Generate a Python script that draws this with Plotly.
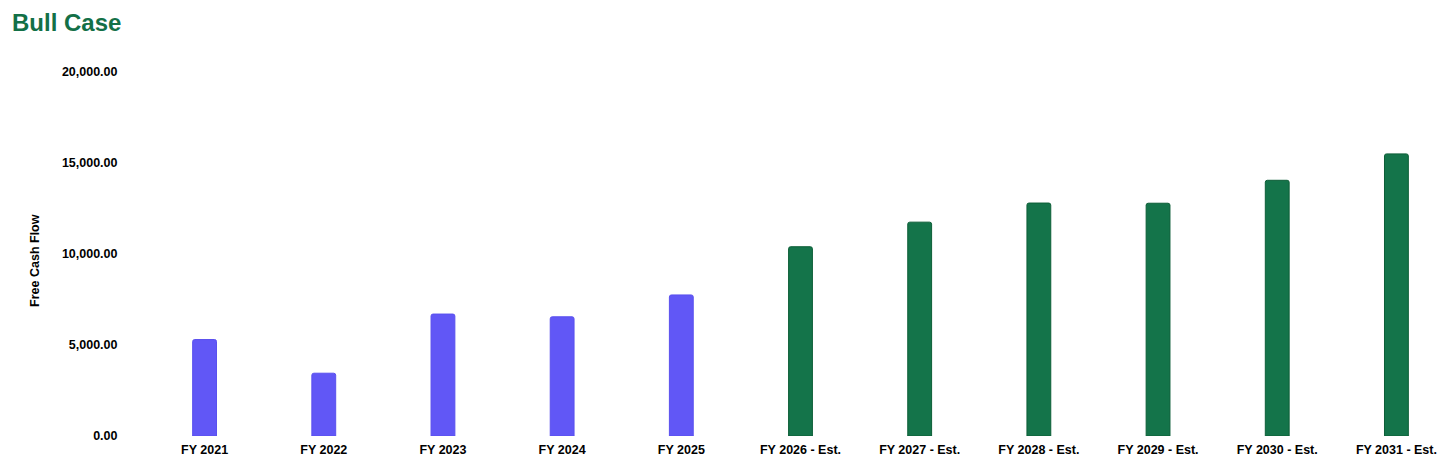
import plotly.graph_objects as go

categories = ["FY 2021", "FY 2022", "FY 2023", "FY 2024", "FY 2025",
              "FY 2026 - Est.", "FY 2027 - Est.", "FY 2028 - Est.",
              "FY 2029 - Est.", "FY 2030 - Est.", "FY 2031 - Est."]
free_cash_flow = [5300, 3450, 6700, 6550, 7750, 10400, 11750, 12800, 12790, 14050, 15500]
is_estimate = [False] * 5 + [True] * 6

ACTUAL = "#6157F6"
ACTUAL_LINE = "#5A50EE"
EST = "#14744A"
EST_LINE = "#0C5E37"

colors = [EST if e else ACTUAL for e in is_estimate]
line_colors = [EST_LINE if e else ACTUAL_LINE for e in is_estimate]

FONT = "Liberation Sans, Arial, sans-serif"

fig = go.Figure(go.Bar(
    x=categories, y=free_cash_flow,
    marker=dict(color=colors, line=dict(color=line_colors, width=1), cornerradius=2),
    showlegend=False,
))

# page body has an 8px default margin, so the figure is sized to fit inside it
fig.update_layout(
    width=1448, height=459,
    paper_bgcolor="white", plot_bgcolor="white",
    margin=dict(l=137, r=0, t=64, b=31),
    bargap=0.8,
    font=dict(family=FONT, color="#000000"),
    title=dict(text="Bull Case", x=4 / 1448, xref="container", xanchor="left",
               y=1 - 15 / 459, yref="container", yanchor="middle",
               font=dict(size=24, color="#137047", family=FONT, weight="bold")),
    annotations=[dict(
        text="Free Cash Flow", textangle=-90,
        xref="paper", x=0, xanchor="center", xshift=-110,
        yref="paper", y=0.481, yanchor="middle", showarrow=False,
        font=dict(size=12.5, color="#000000", family=FONT, weight="bold"),
    )],
)

fig.update_xaxes(
    showgrid=False, showline=False, zeroline=False,
    ticks="outside", ticklen=2, tickcolor="rgba(0,0,0,0)",
    tickfont=dict(size=12.5, color="#000000", family=FONT, weight="bold"),
)
fig.update_yaxes(
    range=[0, 20000], tickvals=[0, 5000, 10000, 15000, 20000],
    tickformat=",.2f", showgrid=False, zeroline=False, showline=False,
    ticks="outside", ticklen=24, tickcolor="rgba(0,0,0,0)",
    tickfont=dict(size=12.5, color="#000000", family=FONT, weight="bold"),
)

fig.write_html("out.html")
